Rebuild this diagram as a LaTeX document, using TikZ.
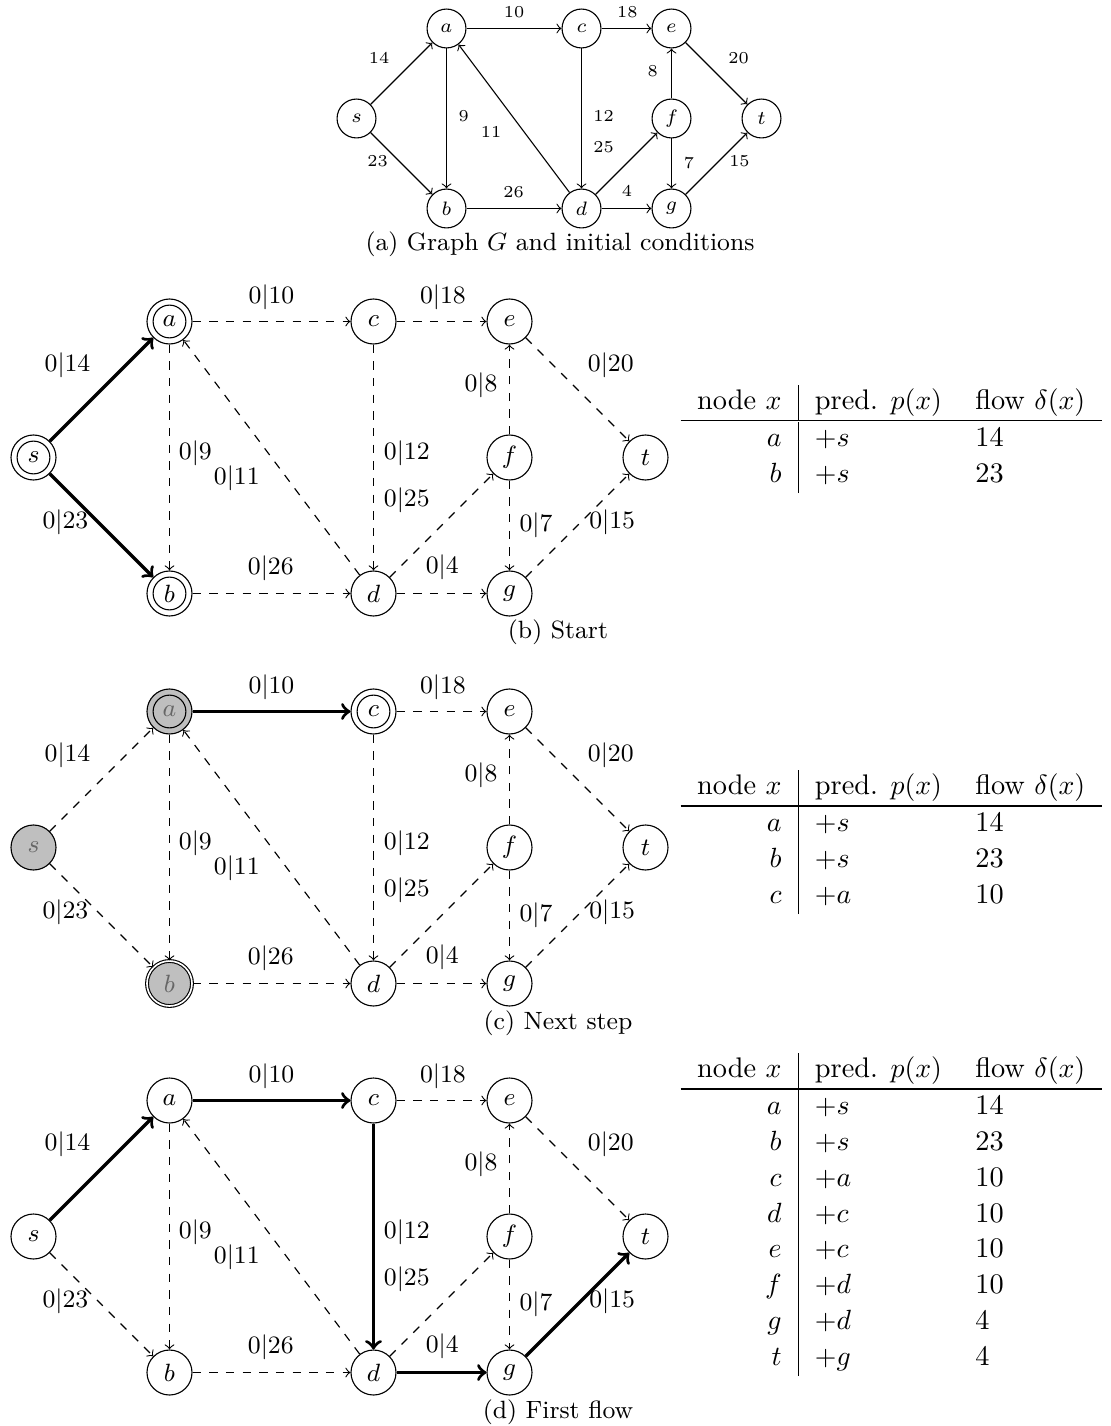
\documentclass[tikz,border=0pt]{standalone}
\usepackage{amsmath,amssymb}
\usepackage{tikz}
\usetikzlibrary{calc}

% label of an arc: flow | capacity
\newcommand{\flowlab}[1]{0|#1}

% one copy of the network (vertices, arcs, labels), names prefixed by \pfx
\newcommand{\drawnet}{%
  % Vertices
  \foreach \n/\x/\y in {s/0/0, a/2/2, b/2/-2, c/5/2, d/5/-2, e/7/2, f/7/0, g/7/-2, t/9/0}
    \node[vertex, v-\n/.try] (\pfx\n) at (\x,\y) {$\n$};
  % Arcs and their capacities
  \foreach \u/\v/\c/\lx/\ly in {s/a/14/0.50/1.35, s/b/23/0.47/-0.95, a/c/10/3.50/2.36,
      a/b/9/2.38/0.06, c/e/18/6.02/2.36, c/d/12/5.49/0.06, d/a/11/2.99/-0.31,
      b/d/26/3.49/-1.63, d/f/25/5.49/-0.63, d/g/4/6.01/-1.61, f/e/8/6.58/1.06,
      f/g/7/7.39/-1.00, e/t/20/8.49/1.35, g/t/15/8.51/-0.95}
  {
    \draw[idle, e-\u\v/.try] (\pfx\u) -- (\pfx\v);
    \node[elabel] (\pfx l\u\v) at (\lx,\ly) {$\flowlab{\c}$};
  }%
}

\begin{document}
\begin{tikzpicture}[x=0.36pt, y=-0.36pt, line join=round,
  vertex/.style={circle, draw, minimum size=16.2pt, inner sep=0pt, font=\fontsize{9.5}{10}\selectfont},
  elabel/.style={inner sep=0pt, font=\fontsize{9}{10}\selectfont},
  idle/.style={dashed, ->},
  used/.style={solid, very thick, ->},
  ring/.style={path picture={\draw (path picture bounding box.center) circle[radius=5.9pt];}},
  seen/.style={fill=black!25, text=black!60},
  caption/.style={inner sep=0pt, font=\fontsize{9}{10}\selectfont},
  tabl/.style={inner sep=0pt, anchor=north west, font=\fontsize{10.2}{12.9}\selectfont}]

  \useasboundingbox (0,0) rectangle (1110,1426);

  % (a) the graph G with capacities
  \begin{scope}[shift={(356.5,118.5)}, x=16.2pt, y=16.2pt, idle/.style={->},
      vertex/.append style={minimum size=14pt, font=\fontsize{6.8}{7}\selectfont},
      elabel/.append style={font=\fontsize{6.3}{7}\selectfont}]
    \def\pfx{G}
    \renewcommand{\flowlab}[1]{#1}
    \drawnet
  \end{scope}
  \node[caption] (Gcap) at (560,244) {(a) Graph $G$ and initial conditions};

  % (b) start: s labelled, a and b reached
  \begin{scope}[shift={(33.5,457.5)}, x=24.48pt, y=24.48pt,
      v-s/.style=ring, v-a/.style=ring, v-b/.style=ring,
      e-sa/.style=used, e-sb/.style=used]
    \def\pfx{B}
    \drawnet
  \end{scope}
  \node[caption] (Bcap) at (558,632) {(b) Start};
  \node[tabl] (Btab) at (680,384) {\begin{tabular}{r|ll}
    node $x$ & pred. $p(x)$ & flow $\delta(x)$\\ \hline
    $a$ & $+s$ & 14\\
    $b$ & $+s$ & 23
  \end{tabular}};

  % (c) next step: a scanned, c reached
  \begin{scope}[shift={(33.5,847.5)}, x=24.48pt, y=24.48pt,
      v-s/.style=seen, v-a/.style={seen, ring},
      v-b/.style={seen, double, double distance=0.6pt}, v-c/.style=ring,
      e-ac/.style=used]
    \def\pfx{C}
    \drawnet
  \end{scope}
  \node[caption] (Ccap) at (558,1023) {(c) Next step};
  \node[tabl] (Ctab) at (680,769) {\begin{tabular}{r|ll}
    node $x$ & pred. $p(x)$ & flow $\delta(x)$\\ \hline
    $a$ & $+s$ & 14\\
    $b$ & $+s$ & 23\\
    $c$ & $+a$ & 10
  \end{tabular}};

  % (d) first flow along s-a-c-d-g-t
  \begin{scope}[shift={(33.5,1236.5)}, x=24.48pt, y=24.48pt,
      e-sa/.style=used, e-ac/.style=used, e-cd/.style=used,
      e-dg/.style=used, e-gt/.style=used]
    \def\pfx{D}
    \drawnet
  \end{scope}
  \node[caption] (Dcap) at (558,1412.7) {(d) First flow};
  \node[tabl] (Dtab) at (680,1052) {\begin{tabular}{r|ll}
    node $x$ & pred. $p(x)$ & flow $\delta(x)$\\ \hline
    $a$ & $+s$ & 14\\
    $b$ & $+s$ & 23\\
    $c$ & $+a$ & 10\\
    $d$ & $+c$ & 10\\
    $e$ & $+c$ & 10\\
    $f$ & $+d$ & 10\\
    $g$ & $+d$ & 4\\
    $t$ & $+g$ & 4
  \end{tabular}};

\end{tikzpicture}
\end{document}
